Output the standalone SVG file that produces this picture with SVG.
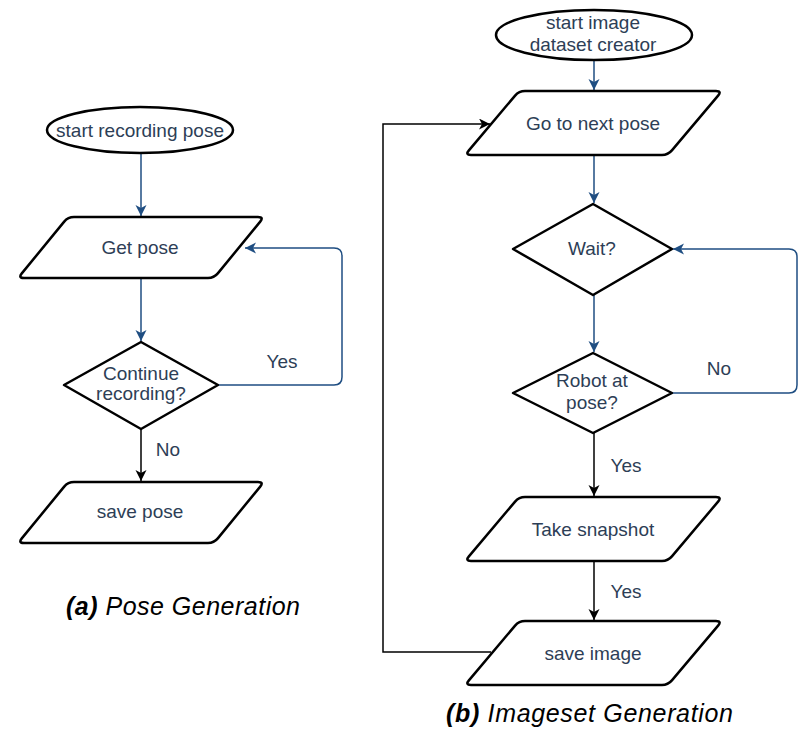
<svg xmlns="http://www.w3.org/2000/svg" width="799" height="731" viewBox="0 0 799 731">
  <style>
    .shape { fill: #ffffff; stroke: #000000; stroke-width: 2.5; stroke-linejoin: round; }
    .label { font-family: "Liberation Sans", Arial, sans-serif; font-size: 19px; fill: #2d3e56; text-anchor: middle; }
    .edge-label { font-family: "Liberation Sans", Arial, sans-serif; font-size: 19px; fill: #2d3e56; text-anchor: middle; }
    .caption { font-family: "Liberation Sans", Arial, sans-serif; font-size: 25px; font-style: italic; fill: #000000; }
    .caption .tag { font-weight: bold; }
    .link-blue { fill: none; stroke: #1f4e82; stroke-width: 1.5; }
    .link-black { fill: none; stroke: #000000; stroke-width: 1.5; }
  </style>
  <defs>
    <!-- input/output parallelograms with softened corners -->
    <path id="para-small" d="M 56,0 L 240,0 Q 246,0 242.2,4.6 L 199.8,56.4 Q 196,61 190,61 L 6,61 Q 0,61 3.8,56.4 L 46.2,4.6 Q 50,0 56,0 Z"/>
    <path id="para-large" d="M 60,0 L 251,0 Q 257,0 253.1,4.6 L 206.9,59.4 Q 203,64 197,64 L 6,64 Q 0,64 3.9,59.4 L 50.1,4.6 Q 54,0 60,0 Z"/>
    <marker id="arrow-blue" markerUnits="userSpaceOnUse" markerWidth="12" markerHeight="12" refX="11" refY="5.5" orient="auto">
      <path d="M0,0 L11,5.5 L0,11 L3,5.5 Z" fill="#1f4e82"/>
    </marker>
    <marker id="arrow-black" markerUnits="userSpaceOnUse" markerWidth="12" markerHeight="12" refX="11" refY="5.5" orient="auto">
      <path d="M0,0 L11,5.5 L0,11 L3,5.5 Z" fill="#000000"/>
    </marker>
  </defs>

  <!-- connectors -->
  <g id="connectors">
    <!-- pose generation -->
    <path class="link-blue" d="M141,153 V216" marker-end="url(#arrow-blue)"/>
    <path class="link-blue" d="M141,278 V341" marker-end="url(#arrow-blue)"/>
    <path class="link-blue" d="M218,385 H334 Q342,385 342,377 V256 Q342,248 334,248 H245" marker-end="url(#arrow-blue)"/>
    <path class="link-black" d="M141,429 V481" marker-end="url(#arrow-black)"/>
    <text class="edge-label" x="282" y="368">Yes</text>
    <text class="edge-label" x="168" y="456">No</text>

    <!-- imageset generation -->
    <path class="link-blue" d="M594,60 V90" marker-end="url(#arrow-blue)"/>
    <path class="link-blue" d="M594,155 V203" marker-end="url(#arrow-blue)"/>
    <path class="link-blue" d="M672,393 H789 Q797,393 797,385 V257 Q797,249 789,249 H673" marker-end="url(#arrow-blue)"/>
    <path class="link-blue" d="M594,295 V352" marker-end="url(#arrow-blue)"/>
    <path class="link-black" d="M594,433 V496" marker-end="url(#arrow-black)"/>
    <path class="link-black" d="M594,561 V620" marker-end="url(#arrow-black)"/>
    <path class="link-black" d="M491,652 H383 V124 H490" marker-end="url(#arrow-black)"/>
    <text class="edge-label" x="719" y="375">No</text>
    <text class="edge-label" x="626" y="472">Yes</text>
    <text class="edge-label" x="626" y="598">Yes</text>
  </g>

  <!-- pose generation nodes -->
  <g id="start-recording">
    <ellipse class="shape" cx="140" cy="130" rx="93" ry="23"/>
    <text class="label" x="140" y="137">start recording pose</text>
  </g>
  <g id="get-pose">
    <use href="#para-small" class="shape" transform="translate(18,217)"/>
    <text class="label" x="140" y="254">Get pose</text>
  </g>
  <g id="continue-recording">
    <polygon class="shape" points="141,342 218,385 141,429 64,385"/>
    <text class="label" x="141" y="380">Continue</text>
    <text class="label" x="141" y="400">recording?</text>
  </g>
  <g id="save-pose">
    <use href="#para-small" class="shape" transform="translate(18,482)"/>
    <text class="label" x="140" y="518">save pose</text>
  </g>

  <!-- imageset generation nodes -->
  <g id="start-dataset">
    <ellipse class="shape" cx="594" cy="35" rx="98" ry="25"/>
    <text class="label" x="593" y="29">start image</text>
    <text class="label" x="593" y="51">dataset creator</text>
  </g>
  <g id="next-pose">
    <use href="#para-large" class="shape" transform="translate(465,91)"/>
    <text class="label" x="593" y="130">Go to next pose</text>
  </g>
  <g id="wait">
    <polygon class="shape" points="593,204 672,249 593,295 513,249"/>
    <text class="label" x="592" y="255">Wait?</text>
  </g>
  <g id="robot-at-pose">
    <polygon class="shape" points="593,353 672,393 593,433 513,393"/>
    <text class="label" x="592" y="387">Robot at</text>
    <text class="label" x="592" y="409">pose?</text>
  </g>
  <g id="take-snapshot">
    <use href="#para-large" class="shape" transform="translate(465,497)"/>
    <text class="label" x="593" y="536">Take snapshot</text>
  </g>
  <g id="save-image">
    <use href="#para-large" class="shape" transform="translate(465,621)"/>
    <text class="label" x="593" y="660">save image</text>
  </g>

  <!-- sub-figure captions -->
  <text class="caption" x="66" y="615" textLength="234" lengthAdjust="spacing"><tspan class="tag">(a)</tspan> Pose Generation</text>
  <text class="caption" x="446" y="722" textLength="287" lengthAdjust="spacing"><tspan class="tag">(b)</tspan> Imageset Generation</text>
</svg>
